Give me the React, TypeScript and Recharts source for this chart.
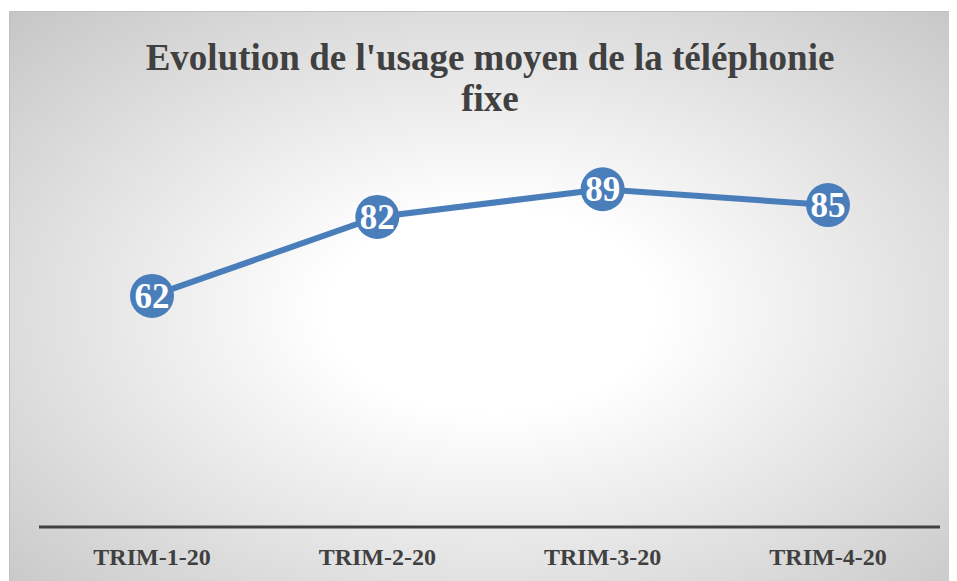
import { LineChart, Line, XAxis, YAxis, LabelList } from "recharts";

const categories = ["TRIM-1-20", "TRIM-2-20", "TRIM-3-20", "TRIM-4-20"];
const usage = [62, 82, 89, 85];

const chartData = categories.map((name, i) => ({ name, usage: usage[i] }));

const serif = "'Liberation Serif', 'Times New Roman', serif";
const blue = "#4A7EBB";

function Dot(props: any) {
  const { cx, cy } = props;
  if (cx == null || cy == null) return null;
  return <circle cx={cx} cy={cy} r={22} fill={blue} />;
}

function ValueLabel(props: any) {
  const { x, y, value } = props;
  return (
    <text
      x={x}
      y={y}
      dy={12}
      textAnchor="middle"
      fill="#ffffff"
      fontFamily={serif}
      fontWeight="bold"
      fontSize={35}
    >
      {value}
    </text>
  );
}

export default function App() {
  return (
    <div
      style={{
        position: "relative",
        width: 944,
        height: 575,
        marginTop: 3,
        marginLeft: 1,
        border: "1px solid #bfbfbf",
        background: "radial-gradient(ellipse farthest-corner at 51% 52%, #ffffff 24%, #c6c6c6 100%)",
      }}
    >
      <div
        style={{
          position: "absolute",
          left: 0,
          top: 25,
          width: 960,
          textAlign: "center",
          fontFamily: serif,
          fontWeight: "bold",
          fontSize: 37,
          lineHeight: "41px",
          color: "#404040",
        }}
      >
        Evolution de l'usage moyen de la téléphonie
        <br />
        fixe
      </div>
      <LineChart
        width={944}
        height={568}
        data={chartData}
        margin={{ top: 120, right: 14, bottom: 13, left: 29 }}
      >
        <XAxis
          dataKey="name"
          height={40}
          padding={{ left: 113, right: 112 }}
          axisLine={{ stroke: "#404040", strokeWidth: 3 }}
          tickLine={false}
          interval={0}
          tick={{ fill: "#404040", fontFamily: serif, fontWeight: "bold", fontSize: 24 }}
          tickMargin={15}
        />
        <YAxis hide domain={[3.5, 103.5]} />
        <Line
          dataKey="usage"
          stroke={blue}
          strokeWidth={6}
          dot={<Dot />}
          activeDot={false}
          isAnimationActive={false}
        >
          <LabelList dataKey="usage" content={<ValueLabel />} />
        </Line>
      </LineChart>
    </div>
  );
}
